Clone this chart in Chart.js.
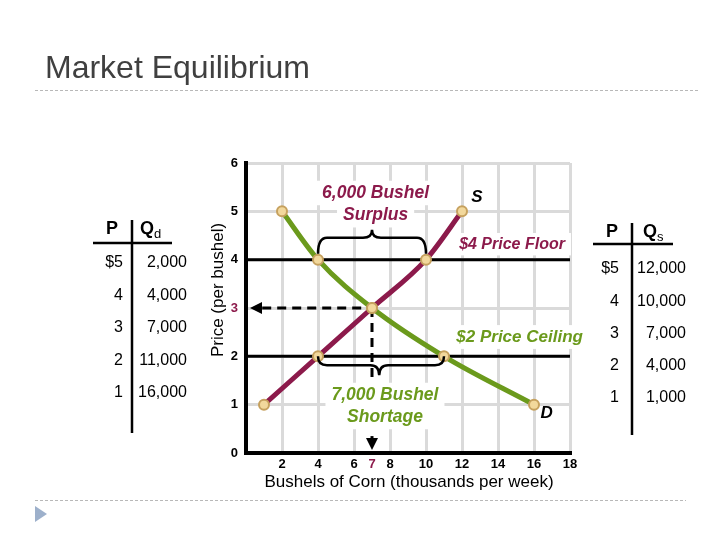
<!DOCTYPE html>
<html>
<head>
<meta charset="utf-8">
<script src="https://cdn.jsdelivr.net/npm/chart.js@4.4.0/dist/chart.umd.min.js"></script>
<style>
body{margin:0;background:#fff}
#wrap{width:720px;height:540px}
</style>
</head>
<body>
<div id="wrap"><canvas id="market" width="720" height="540"></canvas></div>
<script>
// schedule data (quantities in thousands of bushels)
const prices=[5,4,3,2,1];
const qtyDemanded=[2,4,7,11,16];
const qtySupplied=[12,10,7,4,1];
const xTickValues=[2,4,6,7,8,10,12,14,16,18];
const yTickValues=[0,1,2,3,4,5,6];
const priceFloor=4;
const priceCeiling=2;
const eqPrice=3;
const eqQty=7;

const GREEN='#6b9a1c';
const MAROON='#8c1a4b';
const FONT="'Liberation Sans', Arial, sans-serif";

const qdAt=p=>qtyDemanded[prices.indexOf(p)];
const qsAt=p=>qtySupplied[prices.indexOf(p)];
const fmt=v=>(v*1000).toLocaleString('en-US');

const surplus=qsAt(priceFloor)-qdAt(priceFloor);
const shortage=qdAt(priceCeiling)-qsAt(priceCeiling);

// annotation text, placed in value coords
const notes=[
  {text:fmt(surplus)+' Bushel',x:7.2,y:5.38,color:MAROON,size:17.5},
  {text:'Surplus',x:7.2,y:4.92,color:MAROON,size:17.5},
  {text:'S',x:12.83,y:5.28,color:'#000',size:17},
  {text:'$'+priceFloor+' Price Floor',x:14.78,y:4.32,color:MAROON,size:16},
  {text:'$'+priceCeiling+' Price Ceiling',x:15.2,y:2.40,color:GREEN,size:17},
  {text:fmt(shortage)+' Bushel',x:7.72,y:1.20,color:GREEN,size:17.5},
  {text:'Shortage',x:7.72,y:0.745,color:GREEN,size:17.5},
  {text:'D',x:16.7,y:0.83,color:'#000',size:17}
];

function noteFont(n){return 'italic bold '+n.size+'px '+FONT;}

function drawBrace(ctx,x1,x2,yEnd,yFlat,yTip,xTip){
  const r=9;
  ctx.beginPath();
  ctx.moveTo(x1,yEnd);
  ctx.quadraticCurveTo(x1,yFlat,x1+r,yFlat);
  ctx.lineTo(xTip-r,yFlat);
  ctx.quadraticCurveTo(xTip,yFlat,xTip,yTip);
  ctx.quadraticCurveTo(xTip,yFlat,xTip+r,yFlat);
  ctx.lineTo(x2-r,yFlat);
  ctx.quadraticCurveTo(x2,yFlat,x2,yEnd);
  ctx.stroke();
}

function drawTable(ctx,t){
  ctx.fillStyle='#000';
  ctx.textBaseline='middle';
  ctx.font='bold 18px '+FONT;
  ctx.textAlign='center';
  ctx.fillText('P',t.pHead,t.headY);
  ctx.textAlign='left';
  ctx.fillText('Q',t.qHead,t.headY);
  const qw=ctx.measureText('Q').width;
  ctx.font='13px '+FONT;
  ctx.fillText(t.sub,t.qHead+qw,t.headY+5);
  ctx.lineWidth=2.5;
  ctx.strokeStyle='#000';
  ctx.beginPath();
  ctx.moveTo(t.hx1,t.lineY);ctx.lineTo(t.hx2,t.lineY);
  ctx.moveTo(t.vx,t.vy1);ctx.lineTo(t.vx,t.vy2);
  ctx.stroke();
  ctx.font='16px '+FONT;
  ctx.textAlign='right';
  prices.forEach((p,i)=>{
    const y=t.rowY+i*t.rowGap;
    ctx.fillText((i===0?'$':'')+p,t.pRight,y);
    ctx.fillText(fmt(t.qty[i]),t.qRight,y);
  });
}

const overlay={
  id:'overlay',
  beforeDatasetsDraw(chart){
    const {ctx,scales:{x,y}}=chart;
    ctx.save();
    ctx.fillStyle='#fff';
    notes.forEach(n=>{
      if(n.text.length<2)return;
      ctx.font=noteFont(n);
      const w=ctx.measureText(n.text).width;
      ctx.fillRect(x.getPixelForValue(n.x)-w/2-6,y.getPixelForValue(n.y)-n.size*0.7,w+12,n.size*1.4);
    });
    ctx.restore();
  },
  afterDatasetsDraw(chart){
    const {ctx,scales:{x,y}}=chart;
    ctx.save();
    ctx.strokeStyle='#000';
    ctx.lineWidth=2.5;
    // surplus brace at the floor, shortage brace at the ceiling
    const fy=y.getPixelForValue(priceFloor);
    drawBrace(ctx,x.getPixelForValue(qdAt(priceFloor)),x.getPixelForValue(qsAt(priceFloor)),fy-6,fy-22,fy-30,x.getPixelForValue(eqQty));
    const cy=y.getPixelForValue(priceCeiling);
    drawBrace(ctx,x.getPixelForValue(qsAt(priceCeiling)),x.getPixelForValue(qdAt(priceCeiling)),cy,cy+9,cy+19,x.getPixelForValue(eqQty+0.4));

    // arrow to the price axis
    ctx.fillStyle='#000';
    const ay=y.getPixelForValue(eqPrice);
    const ax=x.getPixelForValue(0)+4;
    ctx.beginPath();
    ctx.moveTo(ax,ay);ctx.lineTo(ax+12,ay-6);ctx.lineTo(ax+12,ay+6);ctx.closePath();ctx.fill();
    // arrow to the quantity axis
    const qx=x.getPixelForValue(eqQty);
    const qy=y.getPixelForValue(0)-3;
    ctx.lineWidth=3;
    ctx.beginPath();
    ctx.moveTo(qx,y.getPixelForValue(0.35));ctx.lineTo(qx,qy-10);ctx.stroke();
    ctx.beginPath();
    ctx.moveTo(qx,qy);ctx.lineTo(qx-6,qy-12);ctx.lineTo(qx+6,qy-12);ctx.closePath();ctx.fill();

    ctx.textAlign='center';
    ctx.textBaseline='middle';
    notes.forEach(n=>{
      ctx.font=noteFont(n);
      ctx.fillStyle=n.color;
      ctx.fillText(n.text,x.getPixelForValue(n.x),y.getPixelForValue(n.y));
    });
    ctx.restore();
  },
  afterDraw(chart){
    const {ctx}=chart;
    ctx.save();
    ctx.fillStyle='#404040';
    ctx.font='32px '+FONT;
    ctx.textAlign='left';
    ctx.textBaseline='alphabetic';
    ctx.fillText('Market Equilibrium',45,78);

    ctx.strokeStyle='#b8b8b8';
    ctx.lineWidth=1;
    ctx.setLineDash([3,2]);
    ctx.beginPath();
    ctx.moveTo(35,90.5);ctx.lineTo(700,90.5);
    ctx.moveTo(35,500.5);ctx.lineTo(686,500.5);
    ctx.stroke();
    ctx.setLineDash([]);

    ctx.fillStyle='#9db0cb';
    ctx.beginPath();
    ctx.moveTo(35,506);ctx.lineTo(47,514);ctx.lineTo(35,522);ctx.closePath();ctx.fill();

    // axis titles
    ctx.fillStyle='#000';
    ctx.font='17px '+FONT;
    ctx.textAlign='center';
    ctx.textBaseline='middle';
    ctx.fillText('Bushels of Corn (thousands per week)',409,482);
    ctx.save();
    ctx.translate(218,290);
    ctx.rotate(-Math.PI/2);
    ctx.fillText('Price (per bushel)',0,0);
    ctx.restore();

    drawTable(ctx,{sub:'d',qty:qtyDemanded,pHead:112,qHead:140,headY:229,lineY:243,hx1:93,hx2:172,
      vx:132,vy1:220,vy2:433,pRight:123,qRight:187,rowY:263,rowGap:32.5});
    drawTable(ctx,{sub:'s',qty:qtySupplied,pHead:612,qHead:643,headY:232,lineY:244,hx1:593,hx2:673,
      vx:632,vy1:223,vy2:435,pRight:619,qRight:686,rowY:269,rowGap:32.2});
    ctx.restore();
  }
};

const pointStyle={pointRadius:5,pointHoverRadius:5,pointBackgroundColor:'#f2d89c',pointBorderColor:'#c6a15e',pointBorderWidth:2};

const demandData=prices.map((p,i)=>({x:qtyDemanded[i],y:p}));
const supplyData=prices.map((p,i)=>({x:qtySupplied[i],y:p})).reverse();

new Chart(document.getElementById('market'),{
  type:'line',
  data:{datasets:[
    {label:'Demand',data:demandData,borderColor:GREEN,borderWidth:5,cubicInterpolationMode:'monotone',order:1,...pointStyle},
    {label:'Supply',data:supplyData,borderColor:MAROON,borderWidth:5,cubicInterpolationMode:'monotone',order:2,...pointStyle},
    {label:'Floor',data:[{x:0,y:priceFloor},{x:18,y:priceFloor}],borderColor:'#000',borderWidth:3,pointRadius:0,order:5},
    {label:'Ceiling',data:[{x:0,y:priceCeiling},{x:18,y:priceCeiling}],borderColor:'#000',borderWidth:3,pointRadius:0,order:5},
    {label:'EqPrice',data:[{x:0.9,y:eqPrice},{x:eqQty,y:eqPrice}],borderColor:'#000',borderWidth:3,borderDash:[9,6],pointRadius:0,order:6},
    {label:'EqQty',data:[{x:eqQty,y:eqPrice},{x:eqQty,y:1.55}],borderColor:'#000',borderWidth:3,borderDash:[9,6],pointRadius:0,order:6}
  ]},
  options:{
    responsive:false,
    animation:false,
    events:[],
    layout:{padding:{top:163,right:150,left:0,bottom:0}},
    plugins:{legend:{display:false},tooltip:{enabled:false}},
    elements:{line:{clip:false}},
    scales:{
      x:{
        type:'linear',min:0,max:18,
        afterFit(s){s.height=87;},
        afterBuildTicks(s){s.ticks=xTickValues.map(v=>({value:v}));},
        grid:{color:c=>c.tick&&c.tick.value===eqQty?'rgba(0,0,0,0)':'#dadada',lineWidth:3,drawTicks:false},
        border:{color:'#000',width:4},
        ticks:{padding:4,font:{family:FONT,size:13,weight:'bold'},color:c=>c.tick.value===eqQty?MAROON:'#000'}
      },
      y:{
        type:'linear',min:0,max:6,
        afterFit(s){s.width=246;},
        afterBuildTicks(s){s.ticks=yTickValues.map(v=>({value:v}));},
        grid:{color:'#dadada',lineWidth:3,drawTicks:false},
        border:{color:'#000',width:4},
        ticks:{padding:8,font:{family:FONT,size:13,weight:'bold'},color:c=>c.tick.value===eqPrice?MAROON:'#000'}
      }
    }
  },
  plugins:[overlay]
});
</script>
</body>
</html>
